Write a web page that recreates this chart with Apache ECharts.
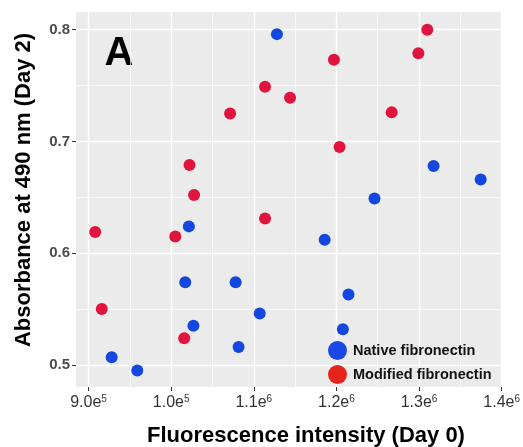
<!DOCTYPE html>
<html>
<head>
<meta charset="utf-8">
<script src="https://cdn.jsdelivr.net/npm/echarts@6/dist/echarts.min.js"></script>
<style>html,body{margin:0;padding:0;background:#fff;}#c{width:523px;height:447px;}</style>
</head>
<body>
<div id="c"></div>
<script>
const xTickValues = [900000, 1000000, 1100000, 1200000, 1300000, 1400000];
const xTickMantissa = ['9.0e', '1.0e', '1.1e', '1.2e', '1.3e', '1.4e'];
const xTickExponent = ['5', '5', '6', '6', '6', '6'];
const xMinorValues = [950000, 1050000, 1150000, 1250000, 1350000];
const yTickValues = [0.5, 0.6, 0.7, 0.8];
const yTickLabels = ['0.5', '0.6', '0.7', '0.8'];
const yMinorValues = [0.55, 0.65, 0.75];

const seriesNames = ['Native fibronectin', 'Modified fibronectin'];
const nativeX = [1128000, 1317600, 1374600, 1246100, 1021400, 1185800, 1017000, 1078000, 1214600, 1107200, 1026900, 1207800, 1081600, 928000, 959000];
const nativeY = [0.796, 0.678, 0.666, 0.649, 0.624, 0.612, 0.574, 0.574, 0.563, 0.546, 0.535, 0.532, 0.516, 0.507, 0.495];
const modifiedX = [1310000, 1299200, 1197000, 1113600, 1143900, 1071300, 1266900, 1203800, 1022200, 1027700, 1113600, 908000, 1005000, 916000, 1015800];
const modifiedY = [0.800, 0.779, 0.773, 0.749, 0.739, 0.725, 0.726, 0.695, 0.679, 0.652, 0.631, 0.619, 0.615, 0.550, 0.524];

const panelLabel = 'A';
const xTitle = 'Fluorescence intensity (Day 0)';
const yTitle = 'Absorbance at 490 nm (Day 2)';

const FONT = '"Liberation Sans", Arial, sans-serif';
const X_MIN = 884800, X_MAX = 1400000, Y_MIN = 0.4803, Y_MAX = 0.8158;

const chart = echarts.init(document.getElementById('c'), null, {renderer: 'canvas'});
const zipPts = (xs, ys) => xs.map((x, i) => [x, ys[i]]);

chart.setOption({
  animation: false,
  backgroundColor: '#ffffff',
  grid: {left: 76, right: 19, top: 12, bottom: 60, show: true, backgroundColor: '#ebebeb', borderWidth: 0},
  xAxis: [{
    type: 'value', min: X_MIN, max: X_MAX, position: 'bottom',
    axisLine: {show: false},
    axisTick: {show: true, length: 4, lineStyle: {color: '#333333', width: 1}, customValues: xTickValues},
    axisLabel: {
      customValues: xTickValues, margin: 7, color: '#333333',
      formatter: function (v) {
        const i = xTickValues.indexOf(v);
        if (i < 0) return '';
        return '{m|' + xTickMantissa[i] + '}{e|' + xTickExponent[i] + '}';
      },
      rich: {
        m: {fontFamily: FONT, fontSize: 16, color: '#333333', lineHeight: 18},
        e: {fontFamily: FONT, fontSize: 10, color: '#333333', verticalAlign: 'top', lineHeight: 10}
      }
    },
    splitLine: {show: true, lineStyle: {color: '#ffffff', width: 1.4}}
  }, {
    type: 'value', min: X_MIN, max: X_MAX, position: 'bottom',
    axisLine: {show: false},
    axisTick: {show: false, customValues: xMinorValues},
    axisLabel: {show: false},
    splitLine: {show: true, lineStyle: {color: '#ffffff', width: 0.7}}
  }],
  yAxis: [{
    type: 'value', min: Y_MIN, max: Y_MAX,
    axisLine: {show: false},
    axisTick: {show: true, length: 4, lineStyle: {color: '#333333', width: 1}, customValues: yTickValues},
    axisLabel: {
      customValues: yTickValues, margin: 6, color: '#4d4d4d', fontFamily: FONT, fontSize: 15, fontWeight: 'bold',
      formatter: function (v) {
        const i = yTickValues.indexOf(v);
        return i < 0 ? '' : yTickLabels[i];
      }
    },
    splitLine: {show: true, lineStyle: {color: '#ffffff', width: 1.4}}
  }, {
    type: 'value', min: Y_MIN, max: Y_MAX,
    axisLine: {show: false},
    axisTick: {show: false, customValues: yMinorValues},
    axisLabel: {show: false},
    splitLine: {show: true, lineStyle: {color: '#ffffff', width: 0.7}}
  }],
  legend: {
    orient: 'vertical', left: 328, top: 341, itemWidth: 19, itemHeight: 19, itemGap: 5, padding: 0,
    textStyle: {fontFamily: FONT, fontSize: 14.5, fontWeight: 'bold', color: '#111111', padding: [0, 0, 0, 1]},
    data: [
      {name: seriesNames[0], icon: 'circle', itemStyle: {color: '#1a47e6', opacity: 1}},
      {name: seriesNames[1], icon: 'circle', itemStyle: {color: '#e6241c', opacity: 1}}
    ]
  },
  graphic: [
    {type: 'text', x: 119, y: 54, style: {text: panelLabel, font: 'bold 40px ' + FONT, fill: '#000', textAlign: 'center', textVerticalAlign: 'middle'}},
    {type: 'text', x: 306, y: 436, style: {text: xTitle, font: 'bold 22px ' + FONT, fill: '#000', textAlign: 'center', textVerticalAlign: 'middle'}},
    {type: 'text', x: 24, y: 190, rotation: Math.PI / 2, style: {text: yTitle, font: 'bold 22px ' + FONT, fill: '#000', textAlign: 'center', textVerticalAlign: 'middle'}}
  ],
  series: [
    {name: seriesNames[0], type: 'scatter', xAxisIndex: 0, yAxisIndex: 0, symbol: 'circle', symbolSize: 12,
     itemStyle: {color: '#1446e0', opacity: 1}, data: zipPts(nativeX, nativeY)},
    {name: seriesNames[1], type: 'scatter', xAxisIndex: 0, yAxisIndex: 0, symbol: 'circle', symbolSize: 12,
     itemStyle: {color: '#e0143c', opacity: 1}, data: zipPts(modifiedX, modifiedY)}
  ]
});
</script>
</body>
</html>
